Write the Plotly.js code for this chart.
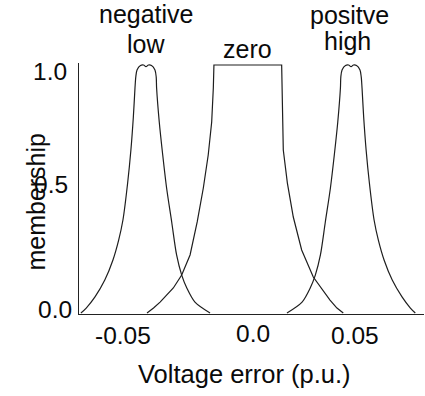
<!DOCTYPE html>
<html>
<head>
<meta charset="utf-8">
<script src="https://cdn.plot.ly/plotly-3.0.1.min.js"></script>
<style>
  html, body { margin: 0; padding: 0; background: #ffffff; }
  #chart { width: 425px; height: 396px; }
</style>
</head>
<body>
<div id="chart"></div>
<script>
// Membership functions (x = voltage error in p.u., y = membership)
var negLowX = [-0.0819, -0.0793, -0.0750, -0.0702, -0.0662, -0.0634, -0.0613, -0.0590, -0.0574, -0.0562,
               -0.0554, -0.0550, -0.0544, -0.0527, -0.0512, -0.0500, -0.0488, -0.0473, -0.0456, -0.0450,
               -0.0448, -0.0435, -0.0418, -0.0399, -0.0374, -0.0350, -0.0325, -0.0300, -0.0260, -0.0186];
var negLowY = [0, 0.020, 0.065, 0.133, 0.214, 0.294, 0.375, 0.524, 0.657, 0.790,
               0.907, 0.952, 0.98, 0.998, 1.0, 0.993, 1.0, 0.998, 0.98, 0.952,
               0.907, 0.770, 0.637, 0.504, 0.367, 0.234, 0.153, 0.101, 0.044, 0];

var zeroX = [-0.0495, -0.0463, -0.0431, -0.0366, -0.0325, -0.0284, -0.0249, -0.0219, -0.0195, -0.0178, -0.0170, -0.0167,
              0.0165, 0.0167, 0.0173, 0.0193, 0.0222, 0.0263, 0.0320, 0.0402, 0.0436, 0.0467];
var zeroY = [0, 0.020, 0.044, 0.101, 0.153, 0.234, 0.367, 0.504, 0.637, 0.770, 0.907, 1.0,
             1.0, 0.907, 0.657, 0.524, 0.387, 0.254, 0.145, 0.052, 0.020, 0];

var posHighX = [0.0191, 0.0265, 0.0305, 0.0330, 0.0355, 0.0379, 0.0404, 0.0423, 0.0440, 0.0453,
                0.0455, 0.0461, 0.0478, 0.0493, 0.0505, 0.0517, 0.0532, 0.0549, 0.0555, 0.0559,
                0.0567, 0.0579, 0.0595, 0.0618, 0.0639, 0.0667, 0.0707, 0.0755, 0.0796, 0.0820];
var posHighY = [0, 0.044, 0.101, 0.153, 0.234, 0.367, 0.504, 0.637, 0.770, 0.907,
                0.952, 0.98, 0.998, 1.0, 0.993, 1.0, 0.998, 0.98, 0.952, 0.907,
                0.790, 0.657, 0.524, 0.375, 0.294, 0.214, 0.133, 0.065, 0.020, 0];

// Labels
var setNames = ['negative<br>low', 'zero', 'positve<br>high'];
var setCenters = [-0.05, 0, 0.0505];
var xTickVals = [-0.05, 0, 0.05];
var xTickText = ['-0.05', '0.0', '0.05'];
var yTickVals = [0, 0.5, 1];
var yTickText = ['0.0', '0.5', '1.0'];
var xTitle = 'Voltage error (p.u.)';
var yTitle = 'membership';

var FONT = '"Liberation Sans", Arial, Helvetica, sans-serif';
var INK = '#0a0a0a';

var lineStyle = {color: '#1e1e1e', width: 1.2};
var traces = [
  {x: negLowX, y: negLowY, mode: 'lines', line: Object.assign({shape: 'spline', smoothing: 0.8}, lineStyle), hoverinfo: 'skip'},
  {x: zeroX, y: zeroY, mode: 'lines', line: Object.assign({shape: 'linear'}, lineStyle), hoverinfo: 'skip'},
  {x: posHighX, y: posHighY, mode: 'lines', line: Object.assign({shape: 'spline', smoothing: 0.8}, lineStyle), hoverinfo: 'skip'}
];

var ann = [];
function addAnn(o) {
  ann.push(Object.assign({showarrow: false, xanchor: 'center', yanchor: 'middle',
    font: {family: FONT, size: 25.5, color: INK}}, o));
}

// x tick labels
var xShift = [-23, 5, 5];
var xLabY = [-0.0865, -0.0785, -0.0865];
xTickVals.forEach(function (v, i) {
  addAnn({xref: 'x', x: v, yref: 'paper', y: xLabY[i], xshift: xShift[i], text: xTickText[i],
          font: {family: FONT, size: 24.5, color: INK}});
});
// y tick labels
var yXShift = [-5.5, -9, -10];
var yYShift = [3.3, 4.3, -6.7];
yTickVals.forEach(function (v, i) {
  addAnn({xref: 'paper', x: 0, xanchor: 'right', xshift: yXShift[i], yref: 'y', y: v, yshift: yYShift[i],
          text: yTickText[i], font: {family: FONT, size: 24.5, color: INK}});
});
// axis titles
addAnn({xref: 'paper', x: 0.4797, yref: 'paper', y: -0.2402, text: xTitle});
addAnn({xref: 'paper', x: -0.1246, yref: 'paper', y: 0.448, text: yTitle, textangle: -90, font: {family: FONT, size: 25, color: INK}});

// set names above the peaks
var nameLines = setNames.map(function (s) { return s.split('<br>'); });
addAnn({xref: 'x', x: setCenters[0], yref: 'paper', y: 1.1952, text: nameLines[0][0], font: {family: FONT, size: 25, color: INK}});
addAnn({xref: 'x', x: setCenters[0], yref: 'paper', y: 1.0745, text: nameLines[0][1], font: {family: FONT, size: 25, color: INK}});
addAnn({xref: 'x', x: setCenters[1], xshift: -1, yref: 'paper', y: 1.0574, text: nameLines[1][0], font: {family: FONT, size: 25, color: INK}});
addAnn({xref: 'x', x: setCenters[2], xshift: -2, yref: 'paper', y: 1.19, text: nameLines[2][0], font: {family: FONT, size: 25, color: INK}});
addAnn({xref: 'x', x: setCenters[2], xshift: -3.5, yref: 'paper', y: 1.0865, text: nameLines[2][1], font: {family: FONT, size: 25, color: INK}});

var axisCommon = {
  showgrid: false, zeroline: false, showline: true, linecolor: '#222222', linewidth: 1,
  ticks: '', showticklabels: false, fixedrange: true
};

var layout = {
  width: 425, height: 396,
  margin: {l: 79, r: 1, t: 63, b: 82, pad: 0},
  paper_bgcolor: '#ffffff', plot_bgcolor: '#ffffff',
  showlegend: false,
  font: {family: FONT, color: INK},
  xaxis: Object.assign({range: [-0.08284, 0.08627]}, axisCommon),
  yaxis: Object.assign({range: [-0.004, 1.008]}, axisCommon),
  annotations: ann
};

Plotly.newPlot('chart', traces, layout, {staticPlot: true, displayModeBar: false});
</script>
</body>
</html>
